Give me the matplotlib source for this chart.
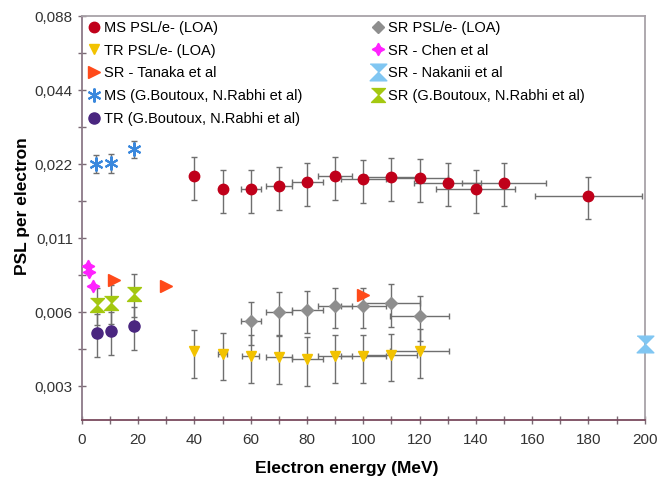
import matplotlib
matplotlib.use("Agg")
import matplotlib.pyplot as plt
from matplotlib.ticker import FixedLocator, NullFormatter

plt.rcParams['font.family'] = ['Liberation Sans', 'DejaVu Sans']

# --- data (energy in MeV, PSL per electron) ---
ms_loa_x = [40, 50, 60, 70, 80, 90, 100, 110, 120, 130, 140, 150, 180]
ms_loa_y = [0.0196, 0.0174, 0.0174, 0.0179, 0.0186, 0.0196, 0.0191, 0.0195, 0.0193, 0.0185, 0.0174, 0.0185, 0.0163]
ms_loa_xerr = [0, 0, 3.5, 4.5, 5.5, 6, 8, 9, 10, 12, 14, 15, 19]
ms_loa_yerr = [0.0039, 0.0035, 0.0035, 0.0036, 0.0037, 0.0039, 0.0038, 0.0039, 0.0038, 0.0037, 0.0035, 0.0037, 0.0032]

tr_loa_x = [40, 50, 60, 70, 80, 90, 100, 110, 120]
tr_loa_y = [0.00382, 0.00371, 0.00364, 0.00361, 0.00355, 0.00364, 0.00364, 0.00368, 0.00383]
tr_loa_xerr = [0, 1.5, 3, 4.5, 5.5, 6, 8, 9, 10.5]
tr_loa_yerr = [0.00085, 0.0008, 0.0008, 0.0008, 0.0008, 0.0008, 0.0008, 0.0008, 0.00085]

sr_loa_x = [60, 70, 80, 90, 100, 110, 120]
sr_loa_y = [0.00506, 0.00552, 0.00561, 0.00582, 0.00582, 0.00597, 0.00531]
sr_loa_xerr = [3.5, 4.5, 5.5, 6, 8, 10, 10.5]
sr_loa_yerr = [0.0010, 0.0011, 0.0011, 0.0011, 0.0011, 0.0012, 0.0011]

tanaka_x = [11.5, 30, 100]
tanaka_y = [0.00743, 0.00703, 0.00646]

chen_x = [2, 2.6, 4]
chen_y = [0.0085, 0.0080, 0.0070]

nakanii_x = [200]
nakanii_y = [0.0041]

ms_bout_x = [5, 10.5, 18.5]
ms_bout_y = [0.0221, 0.0223, 0.0253]
ms_bout_yerr = [0.0019, 0.0020, 0.0021]

sr_bout_x = [5.3, 10.5, 18.5]
sr_bout_y = [0.00587, 0.00601, 0.00654]
sr_bout_yerr = [0.0010, 0.0011, 0.0013]

tr_bout_x = [5.3, 10.3, 18.5]
tr_bout_y = [0.00451, 0.00459, 0.00481]
tr_bout_yerr = [0.0009, 0.0009, 0.00095]

y_ticks = [0.088, 0.044, 0.022, 0.011, 0.0055, 0.00275]
y_tick_labels = ["0,088", "0,044", "0,022", "0,011", "0,006", "0,003"]
y_minor = [0.0622, 0.0311, 0.01556, 0.00778, 0.00389]

hourglass = [(-1, 1), (1, 1), (0, 0), (1, -1), (-1, -1), (0, 0)]

fig = plt.figure(figsize=(6.66, 4.88), dpi=100)
ax = fig.add_axes([0.123, 0.139, 0.845, 0.828])

ecol = '#6f6f6f'
ekw = dict(fmt='none', ecolor=ecol, elinewidth=1, capsize=2, zorder=2)

ax.errorbar(ms_loa_x, ms_loa_y, xerr=ms_loa_xerr, yerr=ms_loa_yerr, **ekw)
ax.errorbar(tr_loa_x, tr_loa_y, xerr=tr_loa_xerr, yerr=tr_loa_yerr, **ekw)
ax.errorbar(sr_loa_x, sr_loa_y, xerr=sr_loa_xerr, yerr=sr_loa_yerr, **ekw)
ax.errorbar(ms_bout_x, ms_bout_y, yerr=ms_bout_yerr, **ekw)
ax.errorbar(sr_bout_x, sr_bout_y, yerr=sr_bout_yerr, **ekw)
ax.errorbar(tr_bout_x, tr_bout_y, yerr=tr_bout_yerr, **ekw)

# legend order: column 1 then column 2
ax.plot(ms_loa_x, ms_loa_y, 'o', color='#c0001a', ms=7.5, ls='none', label='MS PSL/e- (LOA)', zorder=3)
ax.plot(tr_loa_x, tr_loa_y, 'v', color='#f2c200', ms=7, ls='none', label='TR PSL/e- (LOA)', zorder=3)
ax.plot(tanaka_x, tanaka_y, '>', color='#ff4a1a', ms=9, ls='none', label='SR - Tanaka et al', zorder=3)
ax.plot(ms_bout_x, ms_bout_y, marker=(6, 2, 0), color='#3a88dd', mew=1.5, ms=10, ls='none',
        label='MS (G.Boutoux, N.Rabhi et al)', zorder=3)
ax.plot(tr_bout_x, tr_bout_y, 'o', color='#4a2680', ms=8, ls='none', label='TR (G.Boutoux, N.Rabhi et al)', zorder=3)
ax.plot(sr_loa_x, sr_loa_y, 'D', color='#8e8e8e', ms=6, ls='none', label='SR PSL/e- (LOA)', zorder=3)
ax.plot(chen_x, chen_y, marker=(4, 1, 0), color='#ff22ff', ms=9, ls='none', label='SR - Chen et al', zorder=3)
ax.plot(nakanii_x, nakanii_y, marker=hourglass, color='#80c6f2', ms=12, ls='none',
        label='SR - Nakanii et al', zorder=4, clip_on=False)
ax.plot(sr_bout_x, sr_bout_y, marker=hourglass, color='#a4c810', ms=10, ls='none',
        label='SR (G.Boutoux, N.Rabhi et al)', zorder=3)

ax.set_yscale('log', base=2)
ax.set_ylim(0.002, 0.088)
ax.set_xlim(0, 200)
ax.yaxis.set_major_locator(FixedLocator(y_ticks))
ax.set_yticklabels(y_tick_labels)
ax.yaxis.set_minor_locator(FixedLocator(y_minor))
ax.yaxis.set_minor_formatter(NullFormatter())
ax.set_xticks(range(0, 201, 20))
ax.set_xticks(range(10, 200, 20), minor=True)

ax.tick_params(which='both', direction='inout', length=6, width=1, colors='#7a6a74',
               labelcolor='#333333', labelsize=11)
ax.tick_params(axis='x', pad=6)

ax.spines['left'].set_color('#8c7a88')
ax.spines['bottom'].set_color('#7a4a5e')
ax.spines['top'].set_color('#a8a2a8')
ax.spines['right'].set_color('#a8a2a8')
for s in ax.spines.values():
    s.set_linewidth(1.3)

ax.set_xlabel('Electron energy (MeV)', fontsize=12.5, fontweight='bold')
ax.set_ylabel('PSL per electron', fontsize=12.5, fontweight='bold')
ax.xaxis.set_label_coords(0.47, -0.1)
ax.yaxis.set_label_coords(-0.093, 0.53)

ax.legend(loc='upper left', bbox_to_anchor=(-0.009, 1.01), ncol=2, frameon=False, fontsize=10.5,
          handletextpad=0.05, handlelength=1.2, columnspacing=4.6, labelspacing=0.6,
          borderaxespad=0.2)

fig.savefig('out.png', dpi=100)
